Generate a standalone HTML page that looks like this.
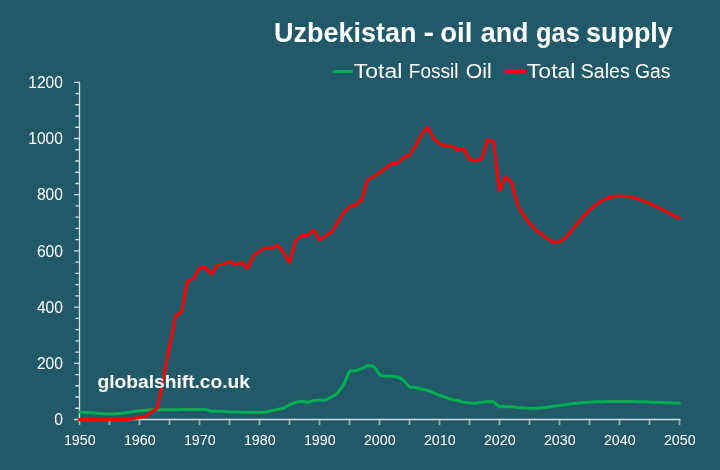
<!DOCTYPE html>
<html><head><meta charset="utf-8"><title>Uzbekistan - oil and gas supply</title>
<style>
html,body{margin:0;padding:0;background:#215968;}
body{width:720px;height:470px;overflow:hidden;}
svg{display:block;will-change:transform;}
text{font-family:"Liberation Sans",sans-serif;fill:#fff;}
.t{font-weight:bold;font-size:27.5px;}
.l{font-size:20px;}
.y{font-size:16.5px;}
.x{font-size:14.5px;}
.w{font-weight:bold;font-size:18px;}
</style></head>
<body>
<svg width="720" height="470" viewBox="0 0 720 470">
<rect width="720" height="470" fill="#215968"/>
<text class="t" x="274.0" y="42" textLength="142.5" lengthAdjust="spacingAndGlyphs">Uzbekistan</text>
<text class="t" x="423.5" y="42" textLength="10.5" lengthAdjust="spacingAndGlyphs">-</text>
<text class="t" x="440.2" y="42" textLength="32.1" lengthAdjust="spacingAndGlyphs">oil</text>
<text class="t" x="480.7" y="42" textLength="47.8" lengthAdjust="spacingAndGlyphs">and</text>
<text class="t" x="536.0" y="42" textLength="43.8" lengthAdjust="spacingAndGlyphs">gas</text>
<text class="t" x="586.0" y="42" textLength="86.8" lengthAdjust="spacingAndGlyphs">supply</text>
<text class="l" x="353.8" y="78.2" textLength="48.5" lengthAdjust="spacingAndGlyphs">Total</text>
<text class="l" x="408.8" y="78.2" textLength="49.7" lengthAdjust="spacingAndGlyphs">Fossil</text>
<text class="l" x="465.8" y="78.2" textLength="25.9" lengthAdjust="spacingAndGlyphs">Oil</text>
<text class="l" x="526.8" y="78.2" textLength="48.7" lengthAdjust="spacingAndGlyphs">Total</text>
<text class="l" x="580.8" y="78.2" textLength="49.0" lengthAdjust="spacingAndGlyphs">Sales</text>
<text class="l" x="635.0" y="78.2" textLength="35.5" lengthAdjust="spacingAndGlyphs">Gas</text>
<line x1="334" y1="71.5" x2="351.5" y2="71.5" stroke="#00B050" stroke-width="3" stroke-linecap="round"/>
<line x1="507" y1="71.5" x2="524.7" y2="71.5" stroke="#FF0000" stroke-width="3" stroke-linecap="round"/>
<g stroke="#D2DDE1" stroke-width="1.33" fill="none">
<path d="M79.5,81.70 V419.5 H680.6"/>
<path d="M74,419.50 H79.5 M75.2,408.26 H79.5 M75.2,397.02 H79.5 M75.2,385.78 H79.5 M75.2,374.54 H79.5 M74,363.30 H79.5 M75.2,352.06 H79.5 M75.2,340.82 H79.5 M75.2,329.58 H79.5 M75.2,318.34 H79.5 M74,307.10 H79.5 M75.2,295.86 H79.5 M75.2,284.62 H79.5 M75.2,273.38 H79.5 M75.2,262.14 H79.5 M74,250.90 H79.5 M75.2,239.66 H79.5 M75.2,228.42 H79.5 M75.2,217.18 H79.5 M75.2,205.94 H79.5 M74,194.70 H79.5 M75.2,183.46 H79.5 M75.2,172.22 H79.5 M75.2,160.98 H79.5 M75.2,149.74 H79.5 M74,138.50 H79.5 M75.2,127.26 H79.5 M75.2,116.02 H79.5 M75.2,104.78 H79.5 M75.2,93.54 H79.5 M74,82.30 H79.5"/>
<path stroke-width="1.7" stroke-opacity="0.68" d="M79.5,420 V424.9 M109.5,420 V424.9 M139.5,420 V424.9 M169.5,420 V424.9 M199.5,420 V424.9 M229.5,420 V424.9 M259.5,420 V424.9 M289.5,420 V424.9 M319.5,420 V424.9 M349.5,420 V424.9 M379.5,420 V424.9 M409.5,420 V424.9 M439.5,420 V424.9 M469.5,420 V424.9 M499.5,420 V424.9 M529.5,420 V424.9 M559.5,420 V424.9 M589.5,420 V424.9 M619.5,420 V424.9 M649.5,420 V424.9 M679.5,420 V424.9"/>
</g>
<text class="y" x="54.2" y="425.2" textLength="8.7" lengthAdjust="spacingAndGlyphs">0</text>
<text class="y" x="36.9" y="369.0" textLength="26.0" lengthAdjust="spacingAndGlyphs">200</text>
<text class="y" x="36.9" y="312.8" textLength="26.0" lengthAdjust="spacingAndGlyphs">400</text>
<text class="y" x="36.9" y="256.6" textLength="26.0" lengthAdjust="spacingAndGlyphs">600</text>
<text class="y" x="36.9" y="200.4" textLength="26.0" lengthAdjust="spacingAndGlyphs">800</text>
<text class="y" x="28.3" y="144.2" textLength="34.6" lengthAdjust="spacingAndGlyphs">1000</text>
<text class="y" x="28.3" y="88.0" textLength="34.6" lengthAdjust="spacingAndGlyphs">1200</text>
<text class="x" x="63.9" y="445.2" textLength="31.8" lengthAdjust="spacingAndGlyphs">1950</text>
<text class="x" x="123.9" y="445.2" textLength="31.8" lengthAdjust="spacingAndGlyphs">1960</text>
<text class="x" x="183.9" y="445.2" textLength="31.8" lengthAdjust="spacingAndGlyphs">1970</text>
<text class="x" x="243.9" y="445.2" textLength="31.8" lengthAdjust="spacingAndGlyphs">1980</text>
<text class="x" x="303.9" y="445.2" textLength="31.8" lengthAdjust="spacingAndGlyphs">1990</text>
<text class="x" x="363.9" y="445.2" textLength="31.8" lengthAdjust="spacingAndGlyphs">2000</text>
<text class="x" x="423.9" y="445.2" textLength="31.8" lengthAdjust="spacingAndGlyphs">2010</text>
<text class="x" x="483.9" y="445.2" textLength="31.8" lengthAdjust="spacingAndGlyphs">2020</text>
<text class="x" x="543.9" y="445.2" textLength="31.8" lengthAdjust="spacingAndGlyphs">2030</text>
<text class="x" x="603.9" y="445.2" textLength="31.8" lengthAdjust="spacingAndGlyphs">2040</text>
<text class="x" x="663.9" y="445.2" textLength="31.8" lengthAdjust="spacingAndGlyphs">2050</text>
<polyline points="79.5,412.0 85.5,412.5 91.5,412.8 97.5,413.3 103.5,413.7 109.5,413.9 115.5,413.7 121.5,413.3 127.5,412.5 133.5,411.6 139.5,410.8 145.5,410.3 151.5,409.8 157.5,409.7 163.5,409.7 169.5,409.7 175.5,409.7 181.5,409.5 187.5,409.5 193.5,409.5 199.5,409.5 205.5,409.5 211.5,411.2 217.5,411.3 223.5,411.6 229.5,411.9 235.5,412.0 241.5,412.3 247.5,412.3 253.5,412.3 259.5,412.3 265.5,412.3 271.5,410.8 277.5,409.5 283.5,408.3 289.5,404.7 295.5,402.5 301.5,401.3 307.5,402.5 313.5,400.5 319.5,400.0 325.5,400.0 331.5,397.0 337.5,393.3 343.5,385.0 349.5,371.1 355.5,370.8 361.5,368.7 367.5,365.8 373.5,366.2 379.5,374.7 385.5,376.3 391.5,376.3 397.5,376.9 403.5,380.4 409.5,387.1 415.5,387.5 421.5,389.2 427.5,390.3 433.5,392.8 439.5,395.3 445.5,397.2 451.5,399.5 457.5,400.5 463.5,402.2 469.5,402.7 475.5,403.3 481.5,402.3 487.5,401.5 493.5,401.7 499.5,406.8 505.5,406.5 511.5,406.8 517.5,407.5 523.5,408.0 529.5,408.3 535.5,408.3 541.5,407.8 547.5,407.2 553.5,406.3 559.5,405.5 565.5,404.7 571.5,403.8 577.5,403.2 583.5,402.5 589.5,402.2 595.5,401.8 601.5,401.7 607.5,401.5 613.5,401.5 619.5,401.5 625.5,401.5 631.5,401.5 637.5,401.7 643.5,401.8 649.5,402.0 655.5,402.3 661.5,402.5 667.5,402.8 673.5,403.0 679.5,403.3" fill="none" stroke="#00B050" stroke-width="3" stroke-linejoin="round" stroke-linecap="round"/>
<polyline points="79.5,419.5 85.5,419.5 91.5,419.5 97.5,419.5 103.5,419.5 109.5,419.5 115.5,419.5 121.5,419.5 127.5,419.5 133.5,418.5 139.5,417.4 145.5,416.5 151.5,412.0 157.5,407.7 163.5,377.3 169.5,346.7 175.5,316.3 181.5,311.8 187.5,281.4 193.5,278.3 199.5,268.0 205.5,267.6 211.5,274.1 217.5,264.7 223.5,264.2 229.5,261.4 235.5,264.5 241.5,262.6 247.5,268.3 253.5,255.8 259.5,251.3 265.5,247.8 271.5,248.5 277.5,245.0 283.5,252.5 289.5,262.6 295.5,240.9 301.5,235.6 307.5,235.3 313.5,230.0 319.5,240.1 325.5,235.8 331.5,232.2 337.5,222.6 343.5,212.8 349.5,206.7 355.5,205.0 361.5,200.0 367.5,180.0 373.5,176.7 379.5,172.8 385.5,168.3 391.5,163.6 397.5,163.3 403.5,157.5 409.5,155.0 415.5,145.8 421.5,134.7 427.5,127.2 433.5,138.3 439.5,143.3 445.5,146.1 451.5,146.1 457.5,149.5 463.5,148.4 469.5,159.2 475.5,160.5 481.5,159.2 487.5,139.7 493.5,141.6 499.5,190.8 505.5,177.1 511.5,182.1 517.5,205.0 523.5,215.0 529.5,223.3 535.5,229.7 541.5,234.2 547.5,238.7 553.5,242.2 559.5,241.8 565.5,237.5 571.5,230.8 577.5,223.3 583.5,216.2 589.5,210.2 595.5,204.9 601.5,201.0 607.5,198.0 613.5,196.8 619.5,196.0 625.5,196.2 631.5,197.0 637.5,198.7 643.5,200.8 649.5,203.3 655.5,206.2 661.5,209.2 667.5,212.2 673.5,215.3 679.5,218.4" fill="none" stroke="#FF0000" stroke-width="3" stroke-linejoin="round" stroke-linecap="round"/>
<text class="w" x="97.5" y="388.3" textLength="152.5" lengthAdjust="spacingAndGlyphs">globalshift.co.uk</text>
</svg>
</body></html>
